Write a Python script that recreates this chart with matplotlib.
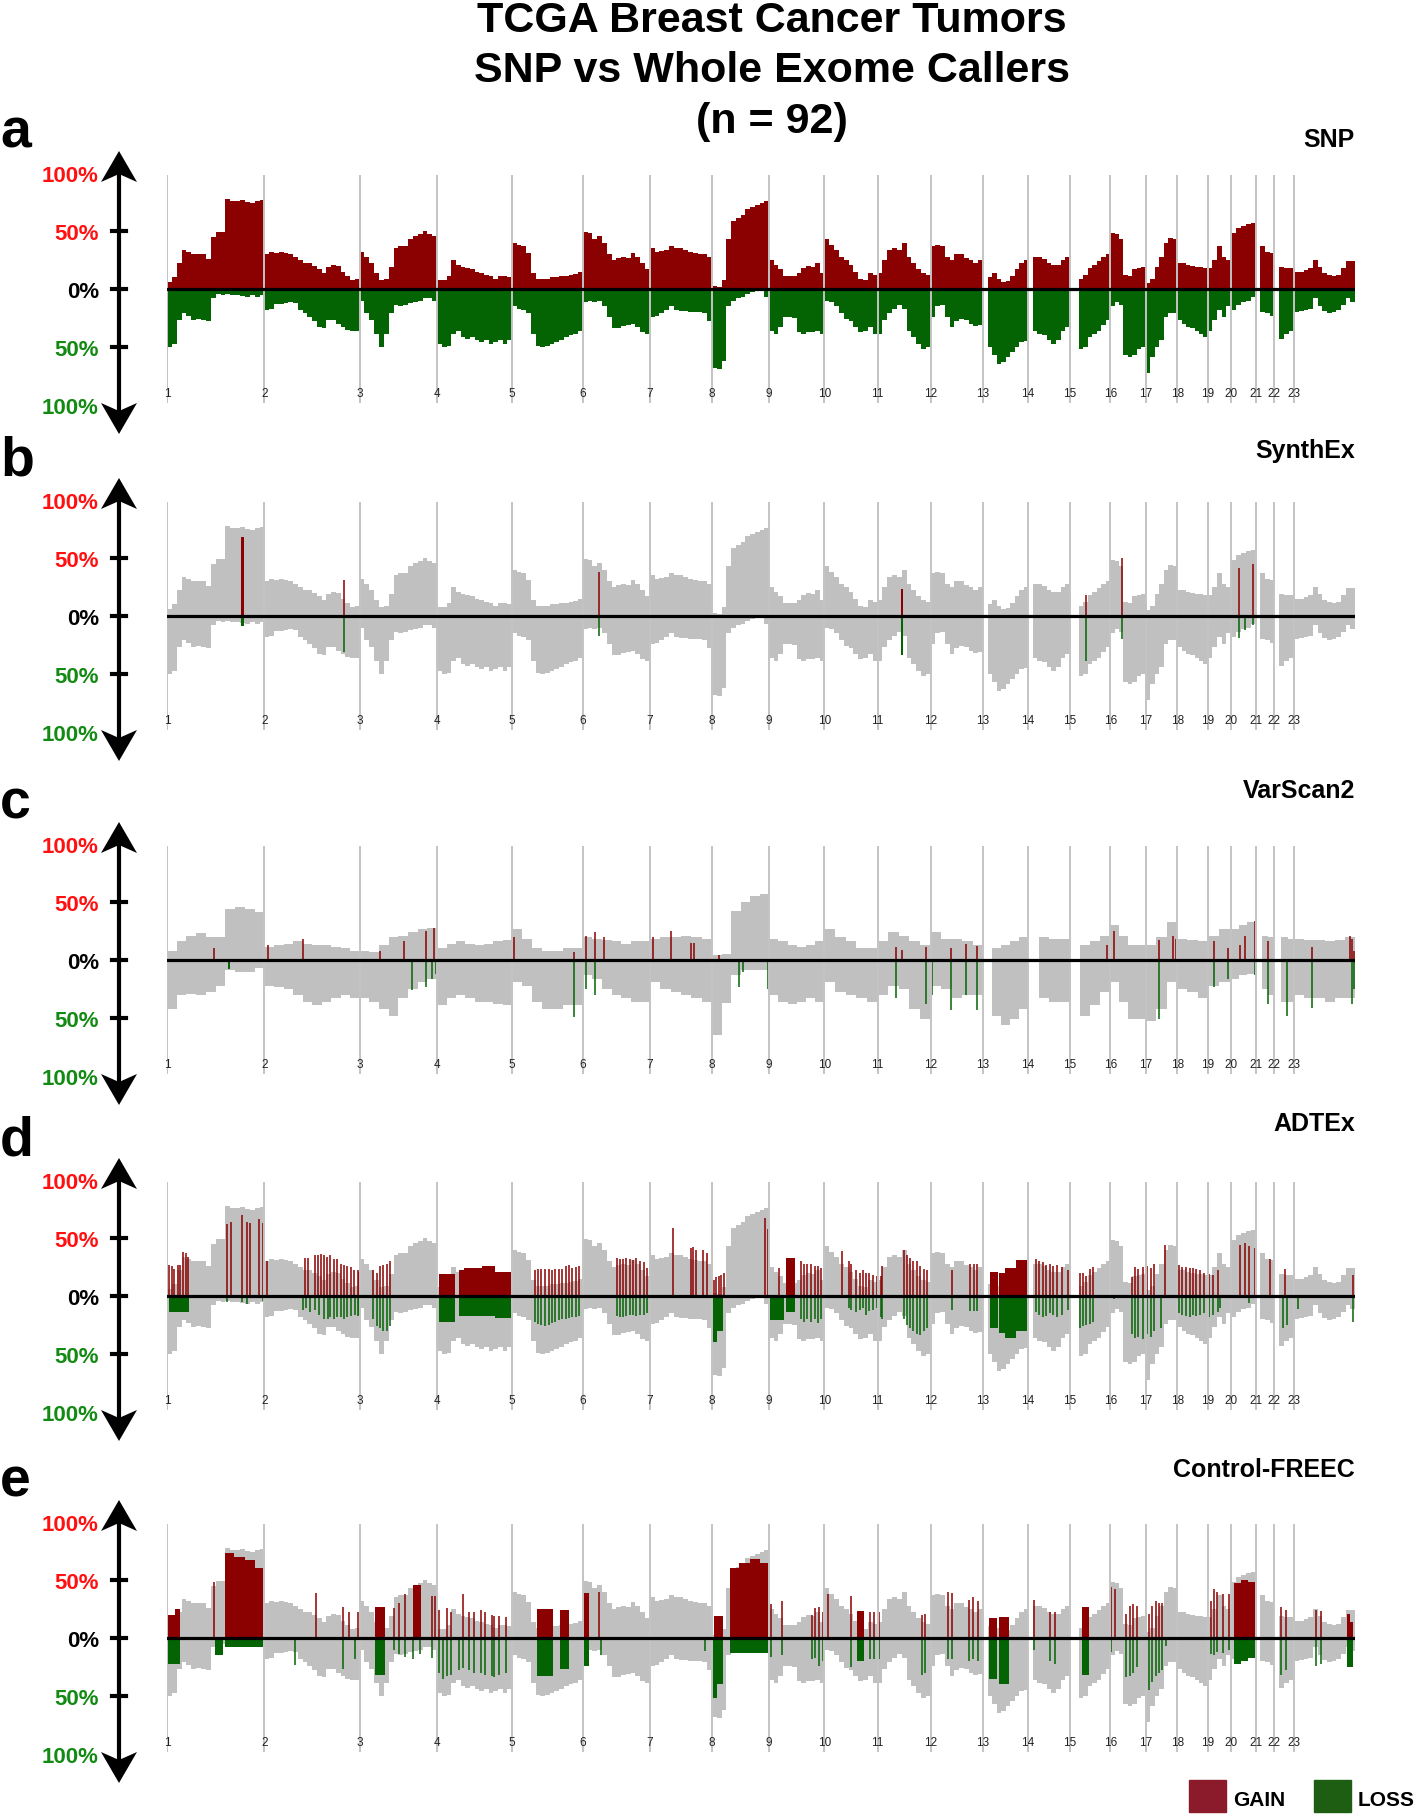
import numpy as np
import matplotlib
matplotlib.use("Agg")
import matplotlib.pyplot as plt
from matplotlib.patches import Polygon, Rectangle

plt.rcParams["font.family"] = ["Liberation Sans", "DejaVu Sans"]

# ---------------------------------------------------------------------------
# Data
# ---------------------------------------------------------------------------
CHROM_LABELS = [str(i) for i in range(1, 24)]
CHROM_LEN_MB = [249, 243, 198, 191, 181, 171, 159, 146, 141, 136, 135, 134,
                115, 107, 103, 90, 81, 78, 59, 63, 48, 51, 155]

# SNP-array frequency (% of 92 tumours), equal-width bins inside each chromosome
SNP_GAIN = [
    [6, 10, 22, 34, 32, 30, 30, 30, 26, 45, 49, 49, 78, 76, 76, 77, 75, 74, 76, 77],
    [30, 32, 31, 32, 31, 30, 28, 25, 22, 22, 20, 17, 14, 19, 21, 20, 15, 11, 8, 9],
    [32, 28, 22, 14, 8, 9, 19, 35, 37, 37, 43, 46, 47, 50, 47, 46],
    [8, 8, 11, 25, 21, 19, 18, 17, 15, 14, 12, 11, 9, 11, 11, 10],
    [40, 38, 37, 31, 14, 9, 9, 9, 10, 10, 11, 11, 12, 13, 15],
    [49, 48, 43, 46, 40, 30, 25, 27, 28, 27, 31, 28, 22, 17],
    [35, 32, 33, 34, 37, 35, 35, 34, 32, 31, 30, 30, 28],
    [3, 2, 8, 43, 59, 61, 64, 69, 71, 72, 74, 76],
    [25, 21, 17, 11, 11, 11, 14, 18, 20, 19, 22, 14],
    [43, 38, 34, 28, 25, 21, 15, 9, 8, 14, 12],
    [14, 25, 34, 35, 34, 40, 28, 22, 17, 14, 12],
    [37, 38, 37, 28, 25, 30, 30, 27, 25, 22, 25],
    [0, 10, 14, 9, 6, 7, 11, 17, 22, 25],
    [0, 28, 28, 26, 22, 21, 21, 25, 28],
    [0, 0, 9, 12, 18, 21, 24, 28, 30],
    [48, 47, 43, 12, 11, 17, 18, 19],
    [5, 9, 19, 28, 40, 44, 43],
    [22, 22, 21, 20, 19, 19, 18],
    [18, 25, 37, 28, 25],
    [48, 53, 54, 56, 57],
    [0, 37, 32, 31],
    [0, 19, 18, 18],
    [15, 15, 16, 18, 25, 19, 14, 12, 11, 12, 18, 24, 24],
]
SNP_LOSS = [
    [50, 47, 27, 21, 23, 27, 26, 27, 28, 8, 4, 5, 4, 5, 5, 6, 7, 5, 7, 5],
    [18, 17, 13, 13, 12, 11, 12, 18, 21, 24, 28, 33, 34, 27, 27, 30, 33, 35, 36, 36],
    [10, 21, 27, 39, 50, 39, 21, 14, 15, 14, 12, 11, 10, 8, 8, 10],
    [47, 50, 49, 39, 36, 41, 43, 41, 44, 46, 44, 47, 46, 44, 47, 44],
    [15, 17, 18, 21, 39, 49, 50, 49, 47, 46, 44, 41, 40, 39, 36],
    [11, 10, 11, 10, 15, 24, 34, 34, 32, 31, 30, 33, 37, 39],
    [24, 23, 21, 18, 15, 18, 19, 19, 20, 20, 20, 21, 28],
    [68, 69, 62, 15, 10, 8, 7, 4, 3, 2, 2, 7],
    [36, 39, 33, 24, 24, 25, 37, 39, 37, 37, 36, 39],
    [10, 11, 15, 21, 26, 28, 33, 37, 36, 33, 39],
    [39, 27, 21, 17, 14, 17, 36, 41, 47, 52, 50],
    [24, 15, 14, 24, 33, 28, 26, 27, 30, 32, 31],
    [0, 50, 57, 65, 63, 59, 54, 50, 46, 45],
    [0, 36, 39, 40, 44, 47, 44, 36, 33],
    [0, 0, 52, 50, 41, 39, 36, 31, 27],
    [15, 11, 14, 57, 59, 57, 52, 50],
    [72, 59, 50, 44, 24, 21, 21],
    [27, 30, 33, 34, 36, 39, 41],
    [36, 27, 18, 24, 15],
    [18, 14, 11, 10, 7],
    [0, 20, 21, 23],
    [0, 43, 39, 36],
    [20, 19, 18, 17, 8, 15, 19, 21, 20, 18, 14, 8, 11],
]

# VarScan2 own frequency profile (grey background of panel c)
VARSCAN_GAIN = [
    [8, 16, 21, 23, 20, 20, 44, 46, 44, 41],
    [11, 13, 14, 16, 14, 13, 13, 11, 10, 8],
    [8, 7, 13, 20, 21, 24, 27, 28],
    [10, 14, 16, 14, 13, 14, 16, 17],
    [27, 18, 10, 8, 8, 10, 10],
    [20, 18, 17, 16, 14, 16, 16],
    [18, 20, 20, 21, 20, 18],
    [4, 5, 42, 50, 55, 57],
    [18, 16, 13, 11, 13, 16],
    [27, 20, 16, 10, 10],
    [16, 24, 21, 16, 13],
    [24, 18, 18, 16, 13],
    [0, 10, 13, 16, 20],
    [0, 20, 18, 18],
    [0, 13, 16, 21],
    [30, 21, 13, 13],
    [13, 20, 33],
    [18, 17, 16],
    [21, 27],
    [27, 30, 33],
    [0, 21, 20],
    [0, 20, 18],
    [18, 17, 17, 16, 17, 20],
]
VARSCAN_LOSS = [
    [42, 30, 29, 30, 28, 22, 9, 10, 10, 7],
    [22, 23, 25, 30, 36, 39, 36, 33, 30, 33],
    [33, 36, 42, 48, 33, 25, 19, 16],
    [39, 33, 30, 33, 36, 36, 38, 39],
    [19, 22, 36, 42, 42, 39, 39],
    [13, 16, 25, 30, 33, 36, 36],
    [19, 25, 28, 30, 33, 36],
    [65, 37, 13, 9, 9, 9],
    [30, 36, 38, 36, 33, 36],
    [19, 28, 30, 33, 36],
    [30, 22, 25, 42, 51],
    [22, 25, 33, 30, 30],
    [0, 48, 56, 51, 42],
    [0, 33, 36, 36],
    [0, 48, 39, 28],
    [19, 36, 51, 51],
    [53, 42, 19],
    [25, 28, 33],
    [22, 19],
    [16, 13, 12],
    [0, 25, 30],
    [0, 36, 36],
    [30, 33, 33, 36, 33, 33],
]

# Concordant calls: (genome position Mb, %) lines and (start Mb, end Mb, %) blocks
SYNTHEX_GAIN_LINES = [(451, 31), (1104, 38), (2348, 18), (2438, 50), (2501, 11),
                      (2739, 41), (2774, 45)]
SYNTHEX_GAIN_BLOCKS = [(188, 196, 68), (1874, 1879, 23)]
SYNTHEX_LOSS_LINES = [(451, 31), (1104, 17), (2348, 39), (2438, 20), (2739, 19),
                      (2754, 12), (2774, 8)]
SYNTHEX_LOSS_BLOCKS = [(188, 196, 9), (1874, 1879, 34)]

VARSCAN_GAIN_LINES = [(120, 10), (258, 13), (348, 18), (544, 8), (606, 16), (662, 25),
                      (683, 28), (887, 20), (1040, 7), (1069, 21), (1092, 24), (1115, 20),
                      (1242, 20), (1286, 25), (1337, 15), (1345, 15), (1411, 4), (1861, 11),
                      (1876, 9), (1938, 11), (2002, 10), (2040, 14), (2068, 12), (2400, 13),
                      (2418, 25), (2533, 17), (2569, 21), (2577, 18), (2674, 16), (2710, 10),
                      (2740, 13), (2753, 21), (2778, 34), (2812, 16), (2924, 11), (3022, 21),
                      (3027, 18), (3032, 8)]
VARSCAN_GAIN_BLOCKS = []
VARSCAN_LOSS_LINES = [(626, 26), (662, 23), (677, 16), (688, 12), (1040, 49), (1069, 25),
                      (1092, 30), (1462, 23), (1472, 10), (1536, 25), (1861, 33), (1938, 38),
                      (1953, 30), (2002, 43), (2040, 30), (2068, 43), (2533, 51), (2674, 23),
                      (2710, 16), (2778, 13), (2812, 38), (2860, 48), (2924, 41), (3027, 38),
                      (3032, 25)]
VARSCAN_LOSS_BLOCKS = [(155, 161, 8)]

ADTEX_GAIN_LINES = [
    (5, 27), (14, 26), (19, 23), (27, 27), (34, 27), (42, 38), (48, 37), (54, 34),
    (154, 62), (164, 64), (192, 70), (204, 64), (213, 63), (236, 66), (244, 63), (256, 30),
    (352, 33), (360, 33), (377, 35), (385, 35), (394, 36), (402, 35), (409, 34), (417, 35),
    (426, 32), (435, 32), (444, 28), (452, 27), (460, 26), (469, 25), (478, 22), (487, 22),
    (490, 21), (527, 22), (536, 20), (544, 26), (552, 27), (562, 28), (570, 30),
    (939, 22), (948, 23), (956, 23), (966, 23), (975, 23), (983, 22), (991, 23), (1000, 23),
    (1009, 23), (1018, 26), (1026, 27), (1035, 24), (1044, 25), (1052, 26),
    (1148, 33), (1156, 32), (1164, 32), (1173, 33), (1183, 32), (1191, 31), (1199, 33),
    (1208, 30), (1217, 29), (1225, 24), (1291, 59), (1337, 41), (1344, 42), (1352, 40),
    (1370, 40), (1379, 37), (1396, 14), (1402, 16), (1409, 17), (1416, 18), (1422, 20),
    (1527, 67), (1535, 58), (1564, 24), (1618, 30), (1627, 28), (1635, 28), (1644, 28),
    (1654, 26), (1662, 26), (1671, 24), (1723, 39), (1743, 30), (1748, 28), (1760, 22),
    (1769, 20), (1777, 22), (1785, 20), (1794, 20), (1803, 18), (1812, 17), (1823, 17),
    (1827, 26), (1881, 40), (1889, 35), (1898, 33), (1906, 30), (1916, 30), (1924, 26),
    (1933, 23), (1942, 22), (2005, 22), (2051, 28), (2060, 28), (2069, 28),
    (2219, 32), (2227, 30), (2236, 29), (2244, 27), (2254, 28), (2262, 26), (2273, 27),
    (2285, 25), (2302, 22), (2331, 20), (2339, 20), (2346, 17), (2358, 23), (2366, 25),
    (2464, 16), (2472, 25), (2481, 23), (2493, 25), (2504, 26), (2512, 24), (2521, 28),
    (2550, 44), (2585, 27), (2593, 25), (2602, 25), (2612, 24), (2620, 24), (2628, 23),
    (2637, 22), (2648, 20), (2660, 19), (2672, 18), (2683, 22), (2741, 44), (2752, 46),
    (2764, 43), (2778, 41), (2816, 32), (2856, 23), (3030, 18),
]
ADTEX_GAIN_BLOCKS = [(694, 735, 19), (746, 758, 22), (758, 804, 24), (804, 838, 26),
                     (838, 879, 21), (1581, 1604, 33), (2103, 2122, 21), (2126, 2141, 20),
                     (2141, 2167, 24), (2167, 2198, 31)]
ADTEX_LOSS_LINES = [
    (154, 5), (192, 5), (204, 7), (244, 4),
    (348, 12), (356, 10), (366, 14), (377, 12), (389, 16), (400, 20), (410, 20), (417, 18),
    (427, 20), (435, 18), (444, 18), (452, 20), (460, 18), (469, 17), (479, 16), (487, 17),
    (490, 16), (527, 20), (536, 26), (544, 28), (552, 30), (562, 30), (570, 26),
    (939, 22), (948, 24), (956, 25), (966, 26), (975, 25), (983, 23), (991, 22), (1000, 21),
    (1009, 20), (1018, 20), (1026, 19), (1035, 18), (1044, 18), (1052, 17),
    (1148, 17), (1156, 18), (1164, 18), (1173, 17), (1183, 16), (1191, 16), (1199, 17),
    (1208, 16), (1217, 16), (1225, 15), (1618, 20), (1627, 22), (1635, 20), (1644, 22),
    (1654, 20), (1662, 23), (1671, 20), (1743, 10), (1748, 12), (1760, 14), (1769, 12),
    (1777, 10), (1785, 16), (1794, 13), (1803, 12), (1812, 10), (1823, 18), (1827, 20),
    (1881, 20), (1889, 25), (1898, 28), (1906, 30), (1916, 33), (1924, 34), (1933, 30),
    (1942, 28), (2005, 12), (2051, 13), (2060, 13), (2069, 13),
    (2219, 14), (2227, 16), (2236, 18), (2244, 17), (2254, 15), (2262, 16), (2273, 18),
    (2285, 16), (2302, 12), (2331, 28), (2339, 26), (2346, 25), (2358, 24), (2366, 22),
    (2418, 3), (2464, 33), (2472, 36), (2481, 35), (2493, 37), (2504, 33), (2512, 35),
    (2521, 30), (2539, 28), (2585, 15), (2593, 16), (2602, 17), (2612, 18), (2620, 16),
    (2628, 17), (2637, 16), (2648, 15), (2660, 18), (2672, 16), (2683, 14), (2689, 10),
    (2764, 6), (2850, 28), (2860, 25), (2889, 11), (3030, 22),
]
ADTEX_LOSS_BLOCKS = [(5, 57, 14), (694, 735, 22), (746, 838, 17), (838, 879, 19),
                     (1392, 1405, 40), (1405, 1420, 30), (1541, 1575, 21), (1581, 1604, 14),
                     (2103, 2122, 28), (2126, 2141, 32), (2141, 2167, 36), (2167, 2198, 30)]

FREEC_GAIN_LINES = [
    (120, 48), (380, 39), (449, 27), (464, 22), (488, 22), (580, 26), (592, 30), (607, 38),
    (677, 36), (685, 36), (694, 24), (714, 26), (725, 22), (757, 38), (772, 22), (784, 22),
    (801, 24), (813, 22), (830, 20), (836, 19), (847, 19), (865, 18), (1103, 40),
    (1542, 29), (1571, 32), (1646, 20), (1656, 26), (1664, 27), (1675, 22), (1689, 38),
    (1748, 36), (1795, 22), (1806, 22), (1818, 22), (1928, 20), (1936, 21), (1994, 40),
    (2004, 39), (2049, 33), (2059, 35), (2070, 32), (2215, 33), (2255, 22), (2269, 22),
    (2410, 44), (2421, 42), (2450, 21), (2459, 28), (2467, 29), (2476, 28), (2499, 22),
    (2507, 21), (2516, 28), (2526, 32), (2534, 30), (2540, 30), (2665, 32), (2673, 42),
    (2681, 40), (2696, 38), (2712, 38), (2845, 27), (2859, 24), (2934, 24), (2946, 23),
]
FREEC_GAIN_BLOCKS = [(3, 20, 20), (20, 33, 25), (149, 172, 73), (172, 200, 70),
                     (200, 225, 67), (225, 244, 60), (531, 557, 27), (629, 648, 46),
                     (946, 985, 25), (1004, 1027, 24), (1062, 1079, 39), (1397, 1420, 19),
                     (1437, 1462, 60), (1462, 1490, 65), (1490, 1515, 68), (1515, 1536, 65),
                     (1762, 1779, 23), (2099, 2120, 17), (2124, 2151, 18), (2337, 2354, 27),
                     (2725, 2743, 47), (2743, 2762, 50), (2762, 2778, 48), (3013, 3022, 21),
                     (3022, 3030, 14)]
FREEC_LOSS_LINES = [
    (328, 23), (449, 27), (479, 18), (580, 10), (592, 14), (607, 16), (629, 18), (645, 14),
    (677, 17), (694, 30), (704, 35), (714, 33), (725, 32), (745, 28), (757, 26), (772, 28),
    (784, 30), (801, 30), (813, 32), (830, 33), (836, 34), (847, 32), (865, 30), (1108, 15),
    (1373, 11), (1542, 16), (1571, 15), (1646, 18), (1656, 17), (1664, 24), (1675, 20),
    (1748, 25), (1795, 18), (1806, 18), (1818, 18), (1928, 32), (1936, 30), (1994, 18),
    (2004, 18), (2049, 20), (2059, 18), (2070, 20), (2215, 10), (2255, 20), (2269, 22),
    (2412, 12), (2450, 34), (2459, 33), (2467, 30), (2476, 25), (2499, 40), (2507, 45),
    (2516, 38), (2526, 33), (2534, 30), (2540, 28), (2551, 7), (2665, 14), (2673, 15),
    (2681, 12), (2696, 13), (2712, 10), (2845, 32), (2859, 28), (2934, 24), (2946, 22),
]
FREEC_LOSS_BLOCKS = [(3, 33, 22), (122, 142, 15), (149, 244, 8), (531, 557, 32),
                     (946, 985, 33), (1004, 1027, 27), (1062, 1079, 24), (1392, 1405, 52),
                     (1405, 1419, 40), (1437, 1536, 13), (1762, 1779, 20), (2099, 2120, 35),
                     (2124, 2151, 40), (2337, 2354, 32), (2725, 2743, 22), (2743, 2762, 20),
                     (2762, 2778, 17), (3013, 3030, 25)]

PANEL_LETTERS = ["a", "b", "c", "d", "e"]
PANEL_NAMES = ["SNP", "SynthEx", "VarScan2", "ADTEx", "Control-FREEC"]

# ---------------------------------------------------------------------------
# Style / layout
# ---------------------------------------------------------------------------
W, H, DPI = 1416, 1815, 100
GAIN_C = "#8b0000"
LOSS_C = "#046404"
GREY_C = "#c0c0c0"
ZERO_PX = [290, 617, 961, 1297, 1639]
NAME_OFFSET_PX = [143, 159, 163, 166, 162]
HALF_PX = 116
X0_PX, X1_PX = 167, 1355
AXIS_X_PX = 119

CHROM_START = np.concatenate([[0], np.cumsum(CHROM_LEN_MB)[:-1]])
GENOME_MB = float(np.sum(CHROM_LEN_MB))


def fx(px):
    return px / W


def fy(py):
    return 1 - py / H


def draw_profile(ax, gain, loss, gcol, lcol):
    for s, L, g, l in zip(CHROM_START, CHROM_LEN_MB, gain, loss):
        ax.stairs(g, s + np.linspace(0, L, len(g) + 1), baseline=0, fill=True,
                  color=gcol, lw=0, zorder=1)
        ax.stairs(-np.asarray(l), s + np.linspace(0, L, len(l) + 1), baseline=0,
                  fill=True, color=lcol, lw=0, zorder=1)


def draw_calls(ax, lines, blocks, sign, color):
    if lines:
        pos, pct = zip(*lines)
        ax.vlines(pos, 0, sign * np.asarray(pct), color=color, lw=1.1, zorder=2)
    for start, end, pct in blocks:
        ax.bar(start, sign * pct, width=end - start, align="edge", color=color,
               lw=0, zorder=2)


def draw_axis_arrow(z):
    x = AXIS_X_PX
    top, bot = z - 138, z + 145
    fig.add_artist(plt.Line2D([fx(x), fx(x)], [fy(top + 12), fy(bot - 12)],
                              transform=fig.transFigure, color="black", lw=3.0))
    head_top = [(x, top), (x + 18, top + 31), (x, top + 23), (x - 18, top + 31)]
    head_bot = [(x, bot), (x + 18, bot - 31), (x, bot - 23), (x - 18, bot - 31)]
    for head in (head_top, head_bot):
        fig.add_artist(Polygon([(fx(a), fy(b)) for a, b in head], closed=True,
                               transform=fig.transFigure, color="black", lw=0))
    for lvl in (-58, 0, 58):
        fig.add_artist(plt.Line2D([fx(x - 7), fx(x + 7)], [fy(z + lvl), fy(z + lvl)],
                                  transform=fig.transFigure, color="black", lw=3.0))
    labels = [("100%", -116, "#ff1111"), ("50%", -58, "#ff1111"), ("0%", 0, "black"),
              ("50%", 58, "#138a13"), ("100%", 116, "#138a13")]
    for txt, off, col in labels:
        fig.text(fx(99), fy(z + off + 8), txt, ha="right", va="baseline",
                 fontsize=16, fontweight="bold", color=col)


fig = plt.figure(figsize=(W / DPI, H / DPI), dpi=DPI)

fig.text(fx(772), fy(32), "TCGA Breast Cancer Tumors", ha="center", va="baseline",
         fontsize=31, fontweight="bold")
fig.text(fx(772), fy(82), "SNP vs Whole Exome Callers", ha="center", va="baseline",
         fontsize=31, fontweight="bold")
fig.text(fx(772), fy(133), "(n = 92)", ha="center", va="baseline",
         fontsize=31, fontweight="bold")

calls = [
    None,
    (SYNTHEX_GAIN_LINES, SYNTHEX_GAIN_BLOCKS, SYNTHEX_LOSS_LINES, SYNTHEX_LOSS_BLOCKS),
    (VARSCAN_GAIN_LINES, VARSCAN_GAIN_BLOCKS, VARSCAN_LOSS_LINES, VARSCAN_LOSS_BLOCKS),
    (ADTEX_GAIN_LINES, ADTEX_GAIN_BLOCKS, ADTEX_LOSS_LINES, ADTEX_LOSS_BLOCKS),
    (FREEC_GAIN_LINES, FREEC_GAIN_BLOCKS, FREEC_LOSS_LINES, FREEC_LOSS_BLOCKS),
]

for i, z in enumerate(ZERO_PX):
    ax = fig.add_axes([fx(X0_PX), fy(z + HALF_PX), (X1_PX - X0_PX) / W, 2 * HALF_PX / H])
    ax.set_xlim(0, GENOME_MB)
    ax.set_ylim(-100, 100)
    ax.axis("off")

    if i == 0:
        draw_profile(ax, SNP_GAIN, SNP_LOSS, GAIN_C, LOSS_C)
    elif i == 2:
        draw_profile(ax, VARSCAN_GAIN, VARSCAN_LOSS, GREY_C, GREY_C)
    else:
        draw_profile(ax, SNP_GAIN, SNP_LOSS, GREY_C, GREY_C)

    if calls[i] is not None:
        gl, gb, ll, lb = calls[i]
        draw_calls(ax, gl, gb, 1, GAIN_C)
        draw_calls(ax, ll, lb, -1, LOSS_C)

    ax.vlines(CHROM_START, -98, 98, color="#c4c4c4", lw=1.4, zorder=3)
    ax.axhline(0, color="black", lw=2.3, zorder=5)
    for s, lab in zip(CHROM_START, CHROM_LABELS):
        ax.text(s, -90, lab, ha="center", va="center", fontsize=8.5, color="#222222",
                zorder=4)

    draw_axis_arrow(z)
    fig.text(fx(0), fy(z - 142), PANEL_LETTERS[i], ha="left", va="baseline",
             fontsize=40, fontweight="bold")
    fig.text(fx(X1_PX), fy(z - NAME_OFFSET_PX[i]), PANEL_NAMES[i], ha="right",
             va="baseline", fontsize=18, fontweight="bold")

# legend
fig.add_artist(Rectangle((fx(1189), fy(1813)), 37 / W, 32 / H, color="#8b1a2a",
                         transform=fig.transFigure))
fig.text(fx(1233), fy(1806), "GAIN", ha="left", va="baseline", fontsize=15,
         fontweight="bold")
fig.add_artist(Rectangle((fx(1314), fy(1813)), 37 / W, 32 / H, color="#1e5e12",
                         transform=fig.transFigure))
fig.text(fx(1358), fy(1806), "LOSS", ha="left", va="baseline", fontsize=15,
         fontweight="bold")

fig.savefig("out.png", dpi=DPI)
